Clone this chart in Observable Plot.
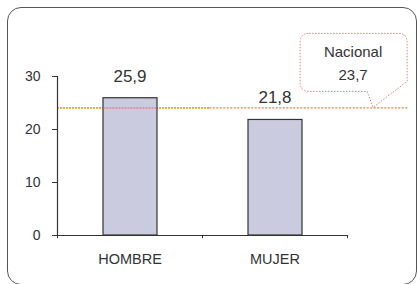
<!DOCTYPE html>
<html><head><meta charset="utf-8">
<script src="https://cdn.jsdelivr.net/npm/d3@7"></script>
<script src="https://cdn.jsdelivr.net/npm/@observablehq/plot@0.6"></script>
<style>
html,body{margin:0;padding:0;background:#fff;}
#wrap{position:relative;width:417px;height:284px;overflow:hidden;}
#frame{position:absolute;left:7px;top:7px;width:410px;height:278px;border:1.5px solid #555;border-radius:14px;box-sizing:border-box;}
#chart{position:absolute;left:0;top:0;}
</style></head>
<body>
<div id="wrap"><div id="frame"></div><div id="chart"></div></div>
<script>
const categories = ["HOMBRE", "MUJER"];
const values = [25.9, 21.8];
const valueLabels = ["25,9", "21,8"];
const yTicks = [0, 10, 20, 30];
const nationalValue = 23.7;
const nationalLabel = ["Nacional", "23,7"];
const nationalAnchorX = 2.18; // position of callout pointer on x scale

const data = categories.map((c, i) => ({cat: c, i, v: values[i], label: valueLabels[i]}));

const callout = (index, scales, values, dims, context) => {
  const g = d3.create("svg:g");
  const px = scales.x(nationalAnchorX), py = scales.y(nationalValue) - 2;
  const left = px - 73, right = px + 34, top = py - 74, bottom = py - 16;
  const r = 9;
  const path = `M${left + r},${top} H${right - r} Q${right},${top} ${right},${top + r} V${py - 26}`
    + ` L${px},${py} L${px - 6},${bottom} H${left + r} Q${left},${bottom} ${left},${bottom - r} V${top + r} Q${left},${top} ${left + r},${top} Z`;
  g.append("path").attr("d", path).attr("fill", "#fff").attr("stroke", "#e08080")
    .attr("stroke-width", 1).attr("stroke-dasharray", "1.5,1.5");
  g.append("text").attr("x", px - 20).attr("y", top + 24).attr("text-anchor", "middle")
    .attr("font-size", 15).attr("fill", "#333").text(nationalLabel[0]);
  g.append("text").attr("x", px - 20).attr("y", top + 47).attr("text-anchor", "middle")
    .attr("font-size", 15).attr("fill", "#333").text(nationalLabel[1]);
  return g.node();
};

const chart = Plot.plot({
  width: 417,
  height: 284,
  marginLeft: 57,
  marginRight: 70,
  marginTop: 76,
  marginBottom: 49,
  style: {fontFamily: "Liberation Sans, Arial, sans-serif", color: "#333", background: "transparent", overflow: "visible"},
  x: {type: "linear", domain: [0, 2], axis: null},
  y: {type: "linear", domain: [0, 30], axis: null},
  marks: [
    Plot.ruleY([nationalValue], {x1: 0, x2: 1.05, dy: -2, stroke: "#f0a030", strokeWidth: 1.6, strokeDasharray: "2,1"}),
    Plot.ruleY([nationalValue], {x1: 1.05, x2: 2.42, dy: -2, stroke: "#e88040", strokeWidth: 1.3, strokeDasharray: "2,1.5"}),
    Plot.rectY(data, {x1: "i", x2: d => d.i + 1, y1: 0, y2: "v", insetLeft: 46, insetRight: 45, fill: "#cbcbe0", stroke: "#333", strokeWidth: 1.2}),
    Plot.ruleY([nationalValue], {x1: 0.32, x2: 0.69, dy: -2, stroke: "#e87080", strokeWidth: 1.5, strokeDasharray: "2,1", strokeOpacity: 0.8}),
    Plot.ruleX([0], {y1: 0, y2: 30, stroke: "#333", strokeWidth: 1.2}),
    Plot.ruleY([0], {x1: 0, x2: 2, stroke: "#333", strokeWidth: 1.2}),
    Plot.ruleY(yTicks, {x1: 0, x2: 0.035, dx: -5, stroke: "#333"}),
    Plot.text(yTicks, {x: 0, y: d => d, text: d => String(d), dx: -17, textAnchor: "end", fontSize: 14, fill: "#333"}),
    Plot.ruleX([0, 1, 2], {y1: 0, y2: -0.6, stroke: "#333"}),
    Plot.text(data, {x: d => d.i + 0.5, y: 0, text: "cat", dy: 24, fontSize: 14.5, fill: "#333"}),
    Plot.text(data, {x: d => d.i + 0.5, y: "v", text: "label", dy: -22, fontSize: 17, fill: "#333"}),
    callout
  ]
});
document.getElementById("chart").appendChild(chart);
</script>
</body></html>
